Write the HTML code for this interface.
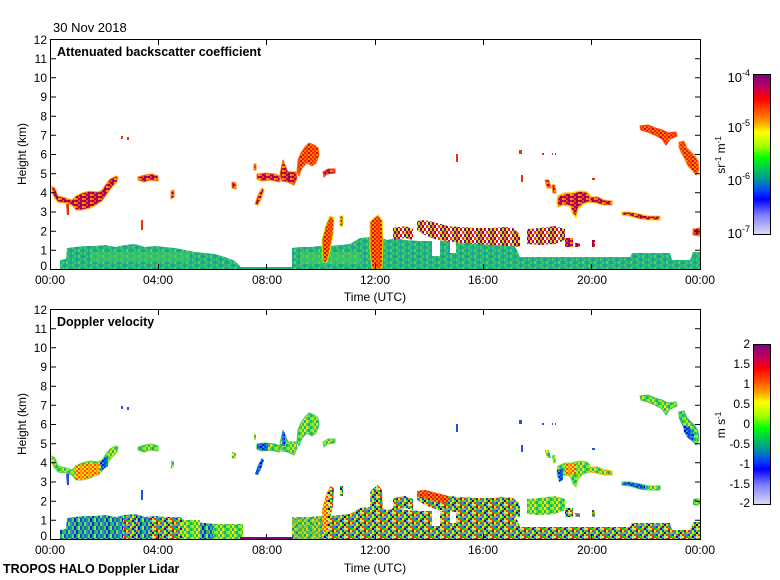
<!DOCTYPE html>
<html><head><meta charset="utf-8"><style>
html,body{margin:0;padding:0;background:#fff;}
svg{display:block;}
text{font-family:"Liberation Sans",Arial,sans-serif;fill:#000;}
.b{font-weight:bold;font-size:12.5px;}
.t{font-size:12px;}
</style></head><body>
<svg width="780" height="580" viewBox="0 0 780 580" xmlns="http://www.w3.org/2000/svg">
<rect width="780" height="580" fill="#fff"/>
<defs>
<linearGradient id="cmap" x1="0" y1="0" x2="0" y2="1">
<stop offset="0" stop-color="#7f007f"/><stop offset="0.08" stop-color="#c0005a"/>
<stop offset="0.15" stop-color="#ff0000"/><stop offset="0.23" stop-color="#ff5000"/>
<stop offset="0.30" stop-color="#ffa000"/><stop offset="0.36" stop-color="#ffff00"/>
<stop offset="0.45" stop-color="#a0ff00"/><stop offset="0.52" stop-color="#00ff00"/>
<stop offset="0.60" stop-color="#00c060"/><stop offset="0.66" stop-color="#0090a0"/>
<stop offset="0.73" stop-color="#0040ff"/><stop offset="0.78" stop-color="#0000ff"/>
<stop offset="0.88" stop-color="#8080ff"/><stop offset="1" stop-color="#e0dcf0"/>
</linearGradient>
<clipPath id="clip"><rect x="51" y="40" width="649" height="229"/></clipPath>
<pattern id="pT" width="12" height="6" patternUnits="userSpaceOnUse">
<rect width="12" height="6" fill="#22b080"/>
<rect x="0" y="0" width="2" height="3" fill="#40cc68"/><rect x="4" y="0" width="2" height="3" fill="#18a298"/>
<rect x="6" y="3" width="2" height="3" fill="#50d850"/><rect x="8" y="0" width="2" height="3" fill="#30c070"/>
<rect x="10" y="3" width="2" height="3" fill="#16a0a0"/><rect x="2" y="3" width="2" height="3" fill="#38c478"/>
</pattern>
<pattern id="pV1" width="16" height="8" patternUnits="userSpaceOnUse">
<rect x="0" y="0" width="2" height="4" fill="#1040f0"/><rect x="2" y="0" width="2" height="4" fill="#30c060"/>
<rect x="4" y="0" width="2" height="4" fill="#2060e0"/><rect x="6" y="0" width="2" height="4" fill="#00a0a0"/>
<rect x="8" y="0" width="2" height="4" fill="#50d850"/><rect x="10" y="0" width="2" height="4" fill="#0010ff"/>
<rect x="12" y="0" width="2" height="4" fill="#20b080"/><rect x="14" y="0" width="2" height="4" fill="#a0e040"/>
<rect x="0" y="4" width="2" height="4" fill="#40c060"/><rect x="2" y="4" width="2" height="4" fill="#1050e0"/>
<rect x="4" y="4" width="2" height="4" fill="#80e040"/><rect x="6" y="4" width="2" height="4" fill="#20a0a0"/>
<rect x="8" y="4" width="2" height="4" fill="#3060f0"/><rect x="10" y="4" width="2" height="4" fill="#60d050"/>
<rect x="12" y="4" width="2" height="4" fill="#0030d0"/><rect x="14" y="4" width="2" height="4" fill="#00c080"/>
</pattern>
<pattern id="pV2" width="16" height="8" patternUnits="userSpaceOnUse">
<rect x="0" y="0" width="2" height="2" fill="#0040ff"/><rect x="2" y="0" width="2" height="2" fill="#ffe000"/><rect x="4" y="0" width="2" height="2" fill="#00c040"/><rect x="6" y="0" width="2" height="2" fill="#b00050"/><rect x="8" y="0" width="2" height="2" fill="#a0ff00"/><rect x="10" y="0" width="2" height="2" fill="#ff3000"/><rect x="12" y="0" width="2" height="2" fill="#20a0a0"/><rect x="14" y="0" width="2" height="2" fill="#6060ff"/>
<rect x="0" y="2" width="2" height="2" fill="#00ff00"/><rect x="2" y="2" width="2" height="2" fill="#ff9000"/><rect x="4" y="2" width="2" height="2" fill="#0000e0"/><rect x="6" y="2" width="2" height="2" fill="#40d060"/><rect x="8" y="2" width="2" height="2" fill="#d0d0f0"/><rect x="10" y="2" width="2" height="2" fill="#ffe000"/><rect x="12" y="2" width="2" height="2" fill="#ff3000"/><rect x="14" y="2" width="2" height="2" fill="#00c040"/>
<rect x="0" y="4" width="2" height="2" fill="#ff3000"/><rect x="2" y="4" width="2" height="2" fill="#20a0a0"/><rect x="4" y="4" width="2" height="2" fill="#a0ff00"/><rect x="6" y="4" width="2" height="2" fill="#0040ff"/><rect x="8" y="4" width="2" height="2" fill="#ff9000"/><rect x="10" y="4" width="2" height="2" fill="#00c040"/><rect x="12" y="4" width="2" height="2" fill="#b00050"/><rect x="14" y="4" width="2" height="2" fill="#ffe000"/>
<rect x="0" y="6" width="2" height="2" fill="#40d060"/><rect x="2" y="6" width="2" height="2" fill="#6060ff"/><rect x="4" y="6" width="2" height="2" fill="#ffe000"/><rect x="6" y="6" width="2" height="2" fill="#00ff00"/><rect x="8" y="6" width="2" height="2" fill="#0000e0"/><rect x="10" y="6" width="2" height="2" fill="#a0ff00"/><rect x="12" y="6" width="2" height="2" fill="#00c040"/><rect x="14" y="6" width="2" height="2" fill="#ff9000"/>
</pattern>
<pattern id="pV3" width="12" height="6" patternUnits="userSpaceOnUse">
<rect x="0" y="0" width="2" height="3" fill="#40d040"/><rect x="2" y="0" width="2" height="3" fill="#c0f000"/><rect x="4" y="0" width="2" height="3" fill="#20b080"/><rect x="6" y="0" width="2" height="3" fill="#ffe000"/><rect x="8" y="0" width="2" height="3" fill="#60e040"/><rect x="10" y="0" width="2" height="3" fill="#00c060"/>
<rect x="0" y="3" width="2" height="3" fill="#a0f020"/><rect x="2" y="3" width="2" height="3" fill="#30c070"/><rect x="4" y="3" width="2" height="3" fill="#f0f000"/><rect x="6" y="3" width="2" height="3" fill="#40d050"/><rect x="8" y="3" width="2" height="3" fill="#20a0a0"/><rect x="10" y="3" width="2" height="3" fill="#90e030"/>
</pattern>
<pattern id="pC" width="8" height="4" patternUnits="userSpaceOnUse">
<rect x="0" y="0" width="2" height="2" fill="#800080"/><rect x="2" y="0" width="2" height="2" fill="#e00030"/><rect x="4" y="0" width="2" height="2" fill="#800080"/><rect x="6" y="0" width="2" height="2" fill="#ff4000"/>
<rect x="0" y="2" width="2" height="2" fill="#c00050"/><rect x="2" y="2" width="2" height="2" fill="#ffa000"/><rect x="4" y="2" width="2" height="2" fill="#ff7000"/><rect x="6" y="2" width="2" height="2" fill="#a00070"/>
</pattern>
<pattern id="pCs" width="12" height="6" patternUnits="userSpaceOnUse">
<rect width="12" height="6" fill="#ffffff"/>
<rect x="0" y="0" width="2" height="3" fill="#800080"/><rect x="2" y="0" width="2" height="3" fill="#ffe000"/><rect x="4" y="0" width="2" height="3" fill="#e00030"/><rect x="8" y="0" width="2" height="3" fill="#800080"/><rect x="10" y="0" width="2" height="3" fill="#a0f000"/>
<rect x="0" y="3" width="2" height="3" fill="#ff8000"/><rect x="2" y="3" width="2" height="3" fill="#800080"/><rect x="6" y="3" width="2" height="3" fill="#ff3000"/><rect x="8" y="3" width="2" height="3" fill="#f0e000"/><rect x="10" y="3" width="2" height="3" fill="#900070"/>
</pattern>
<pattern id="pR" width="8" height="4" patternUnits="userSpaceOnUse">
<rect x="0" y="0" width="2" height="2" fill="#ff2000"/><rect x="2" y="0" width="2" height="2" fill="#ff6000"/><rect x="4" y="0" width="2" height="2" fill="#e00000"/><rect x="6" y="0" width="2" height="2" fill="#ff8000"/>
<rect x="0" y="2" width="2" height="2" fill="#ff7000"/><rect x="2" y="2" width="2" height="2" fill="#ff3000"/><rect x="4" y="2" width="2" height="2" fill="#ff9000"/><rect x="6" y="2" width="2" height="2" fill="#e02000"/>
</pattern>
<pattern id="pB" width="8" height="4" patternUnits="userSpaceOnUse">
<rect x="0" y="0" width="2" height="2" fill="#0040ff"/><rect x="2" y="0" width="2" height="2" fill="#2060e0"/><rect x="4" y="0" width="2" height="2" fill="#0000ff"/><rect x="6" y="0" width="2" height="2" fill="#20a0c0"/>
<rect x="0" y="2" width="2" height="2" fill="#1050f0"/><rect x="2" y="2" width="2" height="2" fill="#00a0a0"/><rect x="4" y="2" width="2" height="2" fill="#3070ff"/><rect x="6" y="2" width="2" height="2" fill="#0020e0"/>
</pattern>
<pattern id="pO" width="8" height="4" patternUnits="userSpaceOnUse">
<rect x="0" y="0" width="2" height="2" fill="#ff9000"/><rect x="2" y="0" width="2" height="2" fill="#ffd000"/><rect x="4" y="0" width="2" height="2" fill="#ff5000"/><rect x="6" y="0" width="2" height="2" fill="#ffe000"/>
<rect x="0" y="2" width="2" height="2" fill="#ffb000"/><rect x="2" y="2" width="2" height="2" fill="#ff7000"/><rect x="4" y="2" width="2" height="2" fill="#ffe000"/><rect x="6" y="2" width="2" height="2" fill="#ff4000"/>
</pattern>

<path id="bl1" d="M60,269 L60,260 66,259 67,248 75,247 85,246 95,246 105,245 115,247 125,245 135,244 145,247 155,246 165,247 175,248 185,250 195,252 205,253 215,254 225,257 235,261 240,266 242,269 Z"/>
<path id="bl2" d="M292,269 L292,248 300,247 310,247 320,246 330,246 340,245 350,244 360,238 370,237 380,237 387,240 395,238 405,240 420,241 440,241 460,241 480,241 500,242 512,242 517,250 520,257 560,257 600,257 630,257 632,253 670,253 672,260 690,260 693,252 700,252 700,269 Z"/>
<path id="cA" d="M52,186 L55,188 58,196 66,198 72,200 76,196 82,193 90,191 98,192 102,190 106,184 110,179 116,176 118,177 117,182 112,187 107,194 102,201 96,205 90,208 82,210 76,210 72,205 66,203 58,202 54,197 52,192 Z"/>
<path id="cB" d="M138,177 L145,175 152,174 158,176 158,181 150,180 144,182 138,180 Z"/>
<path id="cJ" d="M257,174 L265,173 275,174 280,176 280,182 270,180 262,181 257,179 Z"/>
<path id="cK" d="M280,174 L283,160 285,165 288,172 296,172 297,178 294,185 288,182 282,181 Z"/>
<path id="cL" d="M297,172 L298,160 301,153 305,147 309,143 314,145 318,148 319,155 316,163 312,166 307,163 302,168 299,176 Z"/>
<path id="cM" d="M323,172 L328,169 335,169 335,173 327,174 324,177 Z"/>
<path id="cH" d="M262,188 L264,190 261,199 258,205 255,204 258,195 Z"/>
<path id="cN" d="M640,126 L648,125 655,128 662,130 668,133 676,132 677,136 670,139 666,145 662,139 655,135 648,132 641,130 Z"/>
<path id="cO" d="M679,142 L684,141 687,148 691,152 695,156 698,161 699,170 696,175 692,170 688,166 685,159 681,152 679,147 Z"/>
<path id="cP" d="M558,196 L565,193 572,193 580,191 587,192 590,195 590,202 583,204 578,209 576,217 573,214 570,206 563,205 558,207 557,202 Z"/>
<path id="cQ" d="M590,197 L598,197 604,200 612,201 612,205 604,205 596,203 590,202 Z"/>
<path id="cR" d="M622,212 L630,212 640,214 648,216 660,216 660,220 648,220 640,219 630,216 622,215 Z"/>
<path id="cX" d="M417,221 L425,220 437,223 448,226 460,227 475,228 493,228 505,227 513,228 518,232 520,237 520,247 510,246 493,245 475,244 460,243 448,241 437,240 425,235 417,230 Z"/>
<path id="cX2" d="M393,228 L405,226 413,229 413,240 405,238 393,240 Z"/>
<path id="cX3" d="M527,229 L540,228 555,226 565,229 565,240 555,244 540,245 527,244 Z"/>
<path id="cX4" d="M565,238 L573,238 573,247 565,247 Z M575,243h5v4h-5z M592,240h3v7h-3z"/>
<path id="cY" d="M370,222 L374,218 378,215 382,220 383,240 382,269 372,269 370,250 Z"/>
<path id="cZ" d="M322,240 L326,225 330,216 334,218 333,235 330,250 327,262 323,262 Z M340,216h3v10h-3z"/>
<path id="sm" d="M171,191 L174,190 174,197 171,199 Z M232,182 L236,183 236,189 232,188 Z M254,164h2v6h-2z M545,180 L549,180 551,188 547,188 Z M552,185 L555,185 556,193 553,193 Z M693,229 L700,228 700,236 693,235 Z"/>
<path id="tiny" d="M121,136h2v3h-2z M127,137h2v3h-2z M141,220h2v10h-2z M519,150h3v4h-3z M542,153h2v2h-2z M552,153h1v2h-1z M555,153h1v2h-1z M456,154h2v8h-2z M521,175h2v7h-2z M592,178h3v2h-3z M66,204h3v11h-2z"/>
</defs>

<!-- TOP PANEL DATA -->
<g clip-path="url(#clip)">
<use href="#bl1" fill="url(#pT)"/>
<use href="#bl2" fill="url(#pT)"/>
<rect x="240" y="267" width="52" height="2" fill="#20b080"/>
<rect x="90" y="252" width="100" height="10" fill="#48d058" opacity="0.5"/>
<rect x="300" y="252" width="60" height="12" fill="#50d850" opacity="0.5"/>
<rect x="432" y="241" width="8" height="15" fill="#fff"/><rect x="450" y="241" width="6" height="12" fill="#fff"/>
<g stroke-linejoin="round">
<use href="#cX" fill="url(#pCs)"/>
<use href="#cX2" fill="url(#pCs)"/>
<use href="#cX3" fill="url(#pCs)"/>
<use href="#cX4" fill="url(#pC)"/>
<use href="#cY" fill="url(#pR)" stroke="#e0e000" stroke-width="1"/>
<use href="#cZ" fill="url(#pR)" stroke="#c0f000" stroke-width="1"/>
<use href="#cA" fill="url(#pC)" stroke="#ffb000" stroke-width="1"/>
<use href="#cB" fill="url(#pC)" stroke="#ff8000" stroke-width="1"/>
<use href="#cJ" fill="url(#pC)" stroke="#ff8000" stroke-width="1"/>
<use href="#cK" fill="url(#pC)" stroke="#ff6000" stroke-width="1"/>
<use href="#cL" fill="url(#pR)" stroke="#ff6000" stroke-width="1"/>
<use href="#cM" fill="url(#pC)" stroke="#ff4000" stroke-width="1"/>
<use href="#cH" fill="url(#pC)" stroke="#ffa000" stroke-width="1"/>
<use href="#cN" fill="url(#pR)" stroke="#ff3000" stroke-width="1"/>
<use href="#cO" fill="url(#pR)" stroke="#ff8000" stroke-width="1"/>
<use href="#cP" fill="url(#pC)" stroke="#ffd000" stroke-width="1.5"/>
<use href="#cQ" fill="url(#pC)" stroke="#ffa000" stroke-width="1"/>
<use href="#cR" fill="url(#pC)" stroke="#ffd000" stroke-width="1"/>
<use href="#sm" fill="url(#pC)" stroke="#ff8000" stroke-width="1"/>
<use href="#tiny" fill="#f03000"/>
</g>
</g>

<!-- BOTTOM PANEL DATA -->
<g transform="translate(0,270)">
<g clip-path="url(#clip)">
<use href="#bl1" fill="url(#pV1)"/>
<rect x="123" y="246" width="14" height="23" fill="url(#pV2)"/>
<rect x="150" y="247" width="32" height="22" fill="url(#pV2)"/>
<rect x="182" y="250" width="18" height="19" fill="url(#pV3)"/>
<rect x="213" y="254" width="30" height="15" fill="url(#pV3)"/>
<use href="#bl2" fill="url(#pV2)"/>
<rect x="292" y="247" width="30" height="22" fill="url(#pV3)" opacity="0.7"/>
<rect x="240" y="267" width="53" height="2" fill="#800080"/>
<rect x="432" y="241" width="8" height="15" fill="#fff"/><rect x="450" y="241" width="6" height="12" fill="#fff"/>
<g stroke-linejoin="round">
<use href="#cX" fill="url(#pV2)"/>
<path d="M417,221 L425,220 437,223 448,226 448,233 437,232 425,228 417,226 Z" fill="url(#pR)"/>
<use href="#cX2" fill="url(#pV2)"/>
<use href="#cX3" fill="url(#pV3)"/>
<use href="#cX4" fill="url(#pV2)"/>
<use href="#cY" fill="url(#pV2)"/>
<use href="#cZ" fill="url(#pV2)"/>
<path d="M322,240 L326,225 328,220 328,262 323,262 Z" fill="url(#pO)"/>
<use href="#cA" fill="url(#pV3)" stroke="#60d040" stroke-width="1"/>
<path d="M75,195 L100,193 100,205 90,207 82,210 76,210 Z" fill="url(#pO)"/>
<path d="M100,193 L104,188 108,185 108,196 102,200 Z" fill="url(#pB)"/>
<use href="#cB" fill="url(#pV3)" stroke="#60d040" stroke-width="1"/>
<use href="#cJ" fill="url(#pV3)" stroke="#40c060" stroke-width="1"/>
<path d="M257,174 L268,173 268,181 257,179 Z" fill="url(#pB)"/>
<use href="#cK" fill="url(#pV3)" stroke="#40c060" stroke-width="1"/>
<rect x="282" y="162" width="3" height="14" fill="url(#pB)"/>
<use href="#cL" fill="url(#pV3)" stroke="#40c070" stroke-width="1"/>
<use href="#cM" fill="url(#pV3)" stroke="#60d040" stroke-width="1"/>
<use href="#cH" fill="url(#pB)"/>
<use href="#cN" fill="url(#pV3)" stroke="#40c060" stroke-width="1"/>
<use href="#cO" fill="url(#pV3)" stroke="#30b080" stroke-width="1"/>
<path d="M683,155 L690,157 694,165 693,172 688,168 684,162 Z" fill="url(#pB)"/>
<use href="#cP" fill="url(#pV3)" stroke="#80e030" stroke-width="1"/>
<path d="M557,200 L563,198 563,210 559,212 Z" fill="url(#pB)"/>
<path d="M565,194 L576,193 576,204 565,205 Z" fill="url(#pO)"/>
<use href="#cQ" fill="url(#pV3)" stroke="#ffb000" stroke-width="1"/>
<use href="#cR" fill="url(#pB)" stroke="#40c060" stroke-width="1"/>
<path d="M645,215 L660,216 660,220 645,220 Z" fill="url(#pV3)"/>
<use href="#sm" fill="url(#pV3)"/>
<use href="#tiny" fill="#2050e0"/>
</g>
</g>
</g>

<!-- AXES -->
<g fill="none" stroke="#000" stroke-width="1">
<rect x="50.5" y="39.5" width="650" height="230"/>
<rect x="50.5" y="309.5" width="650" height="230"/>
<path d="M158.5,269V264 M266.5,269V264 M375.5,269V264 M483.5,269V264 M591.5,269V264 M158.5,40V45 M266.5,40V45 M375.5,40V45 M483.5,40V45 M591.5,40V45"/>
<path d="M158.5,539V534 M266.5,539V534 M375.5,539V534 M483.5,539V534 M591.5,539V534 M158.5,310V315 M266.5,310V315 M375.5,310V315 M483.5,310V315 M591.5,310V315"/>
<path d="M51,250.3h5 M51,231.2h5 M51,212h5 M51,192.8h5 M51,173.7h5 M51,154.5h5 M51,135.3h5 M51,116.2h5 M51,97h5 M51,77.8h5 M51,58.7h5
M700,250.3h-5 M700,231.2h-5 M700,212h-5 M700,192.8h-5 M700,173.7h-5 M700,154.5h-5 M700,135.3h-5 M700,116.2h-5 M700,97h-5 M700,77.8h-5 M700,58.7h-5"/>
<path d="M51,520.3h5 M51,501.2h5 M51,482h5 M51,462.8h5 M51,443.7h5 M51,424.5h5 M51,405.3h5 M51,386.2h5 M51,367h5 M51,347.8h5 M51,328.7h5
M700,520.3h-5 M700,501.2h-5 M700,482h-5 M700,462.8h-5 M700,443.7h-5 M700,424.5h-5 M700,405.3h-5 M700,386.2h-5 M700,367h-5 M700,347.8h-5 M700,328.7h-5"/>
</g>

<text x="53" y="32" style="font-size:13px">30 Nov 2018</text>
<text x="57" y="56" class="b">Attenuated backscatter coefficient</text>
<text x="57" y="326" class="b">Doppler velocity</text>

<g class="t" text-anchor="end" style="font-size:12px">
<text x="47" y="270">0</text><text x="47" y="254.5">1</text><text x="47" y="235.3">2</text><text x="47" y="216.2">3</text><text x="47" y="197">4</text><text x="47" y="177.8">5</text><text x="47" y="158.7">6</text><text x="47" y="139.5">7</text><text x="47" y="120.3">8</text><text x="47" y="101.2">9</text><text x="47" y="82">10</text><text x="47" y="62.8">11</text><text x="47" y="44">12</text>
<text x="47" y="540">0</text><text x="47" y="524.5">1</text><text x="47" y="505.3">2</text><text x="47" y="486.2">3</text><text x="47" y="467">4</text><text x="47" y="447.8">5</text><text x="47" y="428.7">6</text><text x="47" y="409.5">7</text><text x="47" y="390.3">8</text><text x="47" y="371.2">9</text><text x="47" y="352">10</text><text x="47" y="332.8">11</text><text x="47" y="314">12</text>
</g>
<g text-anchor="middle" style="font-size:12px">
<text x="50" y="284">00:00</text><text x="158" y="284">04:00</text><text x="267" y="284">08:00</text><text x="375" y="284">12:00</text><text x="483" y="284">16:00</text><text x="592" y="284">20:00</text><text x="700" y="284">00:00</text>
<text x="375" y="301">Time (UTC)</text>
<text x="50" y="554">00:00</text><text x="158" y="554">04:00</text><text x="267" y="554">08:00</text><text x="375" y="554">12:00</text><text x="483" y="554">16:00</text><text x="592" y="554">20:00</text><text x="700" y="554">00:00</text>
<text x="375" y="572">Time (UTC)</text>
<text transform="translate(26,154) rotate(-90)">Height (km)</text>
<text transform="translate(26,424) rotate(-90)">Height (km)</text>
</g>
<text x="3" y="573" class="b">TROPOS HALO Doppler Lidar</text>

<!-- COLORBARS -->
<rect x="753.5" y="74.5" width="17" height="160" fill="url(#cmap)" stroke="#000" stroke-width="1"/>
<rect x="753.5" y="344.5" width="17" height="160" fill="url(#cmap)" stroke="#000" stroke-width="1"/>
<g style="font-size:13px" text-anchor="end">
<text x="750" y="82">10<tspan dy="-6" style="font-size:9px">-4</tspan></text>
<text x="750" y="132">10<tspan dy="-6" style="font-size:9px">-5</tspan></text>
<text x="750" y="185">10<tspan dy="-6" style="font-size:9px">-6</tspan></text>
<text x="750" y="238">10<tspan dy="-6" style="font-size:9px">-7</tspan></text>
</g>
<g style="font-size:12px" text-anchor="end">
<text x="750" y="348">2</text><text x="750" y="368">1.5</text><text x="750" y="388">1</text><text x="750" y="408">0.5</text><text x="750" y="428">0</text><text x="750" y="448">-0.5</text><text x="750" y="468">-1</text><text x="750" y="488">-1.5</text><text x="750" y="507">-2</text>
</g>
<g style="font-size:12px" text-anchor="middle">
<text transform="translate(725,155) rotate(-90)">sr<tspan dy="-4" style="font-size:8px">-1</tspan><tspan dy="4"> m</tspan><tspan dy="-4" style="font-size:8px">-1</tspan></text>
<text transform="translate(725,425) rotate(-90)">m s<tspan dy="-4" style="font-size:8px">-1</tspan></text>
</g>
</svg>
</body></html>
